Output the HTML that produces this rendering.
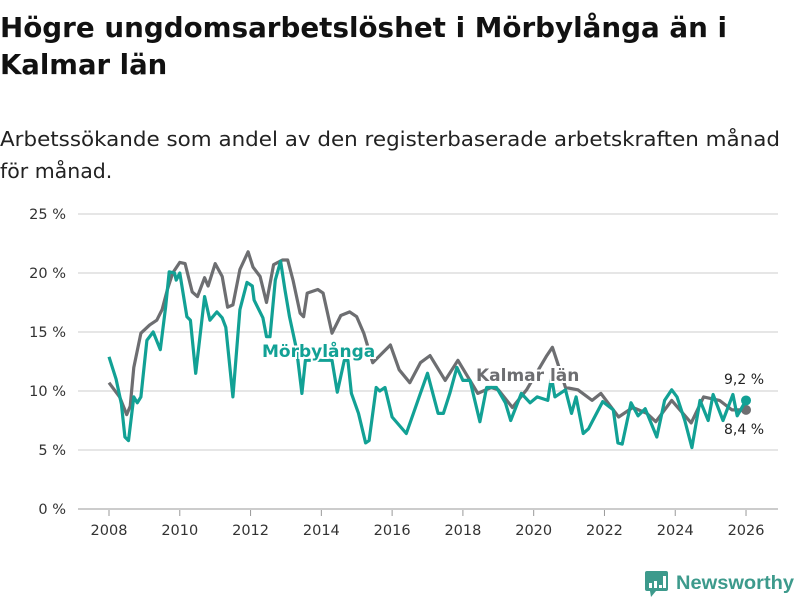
<!DOCTYPE html>
<html><head><meta charset="utf-8"><style>
body{margin:0;background:#fff;width:800px;height:600px;overflow:hidden;font-family:"Liberation Sans","DejaVu Sans",sans-serif}
svg text{font-family:"DejaVu Sans","Liberation Sans",sans-serif}
</style></head><body>
<svg id="chart" width="800" height="600" viewBox="0 0 800 600">
<text x="0" y="37" font-size="27.5" font-weight="bold" fill="#111" textLength="727" lengthAdjust="spacingAndGlyphs">Högre ungdomsarbetslöshet i Mörbylånga än i</text>
<text x="0" y="74" font-size="27.5" font-weight="bold" fill="#111">Kalmar län</text>
<text x="0" y="146" font-size="20.5" fill="#222" textLength="780" lengthAdjust="spacingAndGlyphs">Arbetssökande som andel av den registerbaserade arbetskraften månad</text>
<text x="0" y="178" font-size="20.5" fill="#222">för månad.</text>
<g id="grid"></g><g id="xaxis"></g><g id="lines"></g>
<text x="262" y="357" font-size="17" font-weight="bold" fill="#12a195" stroke="#fff" stroke-width="4" paint-order="stroke">Mörbylånga</text>
<text x="476" y="381" font-size="17" font-weight="bold" fill="#6d6e71" stroke="#fff" stroke-width="4" paint-order="stroke">Kalmar län</text>
<text x="724" y="384" font-size="14" fill="#222">9,2 %</text>
<text x="724" y="434" font-size="14" fill="#222">8,4 %</text>
<g>
<rect x="645" y="571" width="23" height="20" rx="2" fill="#3d9a8c"/>
<path d="M650 591 L656 591 L651 597 Z" fill="#3d9a8c"/>
<rect x="649" y="583" width="3" height="5" fill="#fff"/><rect x="654" y="581" width="3" height="7" fill="#fff"/><rect x="659" y="585" width="3" height="3" fill="#fff"/><rect x="663" y="576" width="3" height="12" fill="#fff"/>
<text x="676" y="589" font-size="19" font-weight="bold" fill="#3d9a8c" textLength="118" lengthAdjust="spacingAndGlyphs" style="font-family:'Liberation Sans',sans-serif">Newsworthy</text>
</g>
</svg>
<script>
const yTicks=[0,5,10,15,20,25];
const xTicks=[2008,2010,2012,2014,2016,2018,2020,2022,2024,2026];
const kalT=[2008.0,2008.3,2008.5,2008.6,2008.7,2008.9,2009.15,2009.35,2009.5,2009.65,2009.8,2010.0,2010.15,2010.35,2010.5,2010.7,2010.8,2011.0,2011.2,2011.35,2011.5,2011.7,2011.93,2012.07,2012.27,2012.45,2012.65,2012.9,2013.05,2013.2,2013.4,2013.5,2013.6,2013.9,2014.05,2014.3,2014.55,2014.8,2015.0,2015.2,2015.45,2015.95,2016.2,2016.5,2016.8,2017.07,2017.5,2017.86,2018.2,2018.42,2018.8,2019.0,2019.4,2019.8,2020.37,2020.53,2020.65,2020.9,2021.25,2021.65,2021.9,2022.4,2022.8,2023.2,2023.45,2023.9,2024.45,2024.8,2025.25,2025.6,2026.0];
const kalV=[10.7,9.5,8.0,8.7,12.0,14.9,15.6,16.0,16.9,18.6,20.0,20.9,20.8,18.4,18.0,19.6,18.9,20.8,19.7,17.1,17.3,20.3,21.8,20.5,19.7,17.5,20.7,21.1,21.1,19.4,16.6,16.3,18.3,18.6,18.3,14.9,16.4,16.7,16.3,14.9,12.4,13.9,11.8,10.7,12.4,13.0,10.9,12.6,10.9,9.8,10.3,10.1,8.6,10.1,13.0,13.7,12.6,10.3,10.1,9.2,9.8,7.8,8.6,8.1,7.4,9.2,7.3,9.5,9.2,8.4,8.4];
const morT=[2008.0,2008.2,2008.35,2008.45,2008.55,2008.7,2008.8,2008.9,2009.07,2009.25,2009.45,2009.6,2009.7,2009.85,2009.9,2010.0,2010.2,2010.3,2010.45,2010.7,2010.85,2011.05,2011.2,2011.3,2011.5,2011.7,2011.9,2012.05,2012.1,2012.35,2012.45,2012.55,2012.7,2012.85,2012.97,2013.1,2013.3,2013.45,2013.55,2013.8,2014.1,2014.3,2014.45,2014.65,2014.75,2014.85,2015.05,2015.25,2015.35,2015.55,2015.65,2015.8,2016.0,2016.4,2016.6,2016.8,2017.0,2017.3,2017.45,2017.63,2017.83,2018.0,2018.2,2018.48,2018.67,2018.95,2019.2,2019.35,2019.65,2019.9,2020.1,2020.4,2020.5,2020.6,2020.9,2021.07,2021.2,2021.4,2021.55,2021.67,2021.95,2022.25,2022.38,2022.5,2022.75,2022.95,2023.15,2023.48,2023.7,2023.9,2024.05,2024.27,2024.47,2024.7,2024.93,2025.07,2025.35,2025.63,2025.75,2026.0];
const morV=[12.9,11.0,8.9,6.1,5.8,9.5,9.0,9.5,14.3,15.0,13.5,17.1,20.1,20.0,19.4,20.0,16.3,16.0,11.5,18.0,16.0,16.7,16.2,15.4,9.5,16.9,19.2,18.9,17.7,16.2,14.6,14.6,19.4,21.0,18.6,16.3,13.5,9.8,12.6,12.6,12.6,12.6,9.9,12.6,12.6,9.8,8.1,5.6,5.8,10.3,10.0,10.3,7.8,6.4,8.1,9.8,11.5,8.1,8.1,9.8,12.0,10.9,10.9,7.4,10.3,10.3,9.0,7.5,9.8,9.0,9.5,9.2,11.2,9.5,10.1,8.1,9.5,6.4,6.8,7.5,9.1,8.4,5.6,5.5,9.0,7.9,8.5,6.1,9.2,10.1,9.5,7.5,5.2,9.2,7.5,9.7,7.5,9.7,7.9,9.2];
const NS='http://www.w3.org/2000/svg';
function xs(t){return 109+(t-2008)*35.39;}
function ys(v){return 509-v*11.8;}
const grid=document.getElementById('grid'),xa=document.getElementById('xaxis'),lines=document.getElementById('lines');
yTicks.forEach(v=>{
 const l=document.createElementNS(NS,'line');
 l.setAttribute('x1',78);l.setAttribute('x2',778);l.setAttribute('y1',ys(v));l.setAttribute('y2',ys(v));
 l.setAttribute('stroke',v===0?'#bbb':'#ddd');l.setAttribute('stroke-width',1.5);
 
 
 grid.appendChild(l);
 const t=document.createElementNS(NS,'text');
 t.setAttribute('x',66);t.setAttribute('y',ys(v)+5);t.setAttribute('text-anchor','end');t.setAttribute('font-size','14.5');t.setAttribute('fill','#333');
 t.textContent=v+' %';
 
 
 grid.appendChild(t);
});
xTicks.forEach(y=>{
 const l=document.createElementNS(NS,'line');
 l.setAttribute('x1',xs(y));l.setAttribute('x2',xs(y));l.setAttribute('y1',510);l.setAttribute('y2',516);l.setAttribute('stroke','#999');
 
 
 xa.appendChild(l);
 const t=document.createElementNS(NS,'text');
 t.setAttribute('x',xs(y));t.setAttribute('y',535);t.setAttribute('text-anchor','middle');t.setAttribute('font-size','14.5');t.setAttribute('fill','#333');
 t.textContent=y;
 
 
 xa.appendChild(t);
});
function drawLine(T,V,color,name){
 const p=document.createElementNS(NS,'path');
 p.setAttribute('d',T.map((t,i)=>(i?'L':'M')+xs(t).toFixed(1)+' '+ys(V[i]).toFixed(1)).join(' '));
 p.setAttribute('fill','none');p.setAttribute('stroke',color);p.setAttribute('stroke-width',3.2);p.setAttribute('stroke-linejoin','round');
 
 
 lines.appendChild(p);
 const c=document.createElementNS(NS,'circle');
 c.setAttribute('cx',xs(T[T.length-1]));c.setAttribute('cy',ys(V[V.length-1]));c.setAttribute('r',5);c.setAttribute('fill',color);
 
 
 lines.appendChild(c);
}
drawLine(kalT,kalV,'#6d6e71','kalmar');
drawLine(morT,morV,'#12a195','morbylanga');
</script>
</body></html>
